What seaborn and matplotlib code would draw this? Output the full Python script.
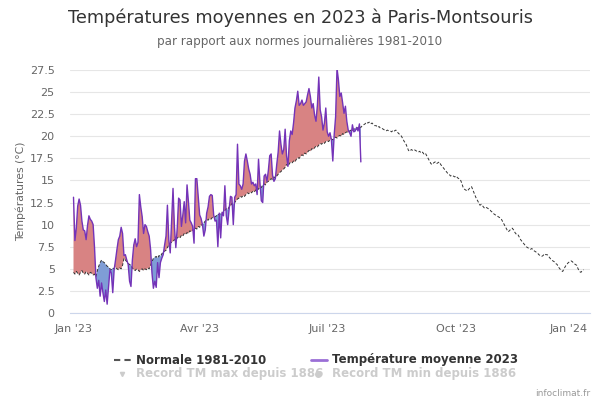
import numpy as np
import pandas as pd
import matplotlib
matplotlib.use('Agg')
import matplotlib.pyplot as plt
import matplotlib.transforms as mtransforms
from matplotlib.lines import Line2D
import seaborn as sns

# normale journaliere 1981-2010 (1 valeur par jour, 1er janvier -> 31 decembre)
normale = [
    # janvier
    4.6, 4.4, 4.7, 4.5, 4.3, 4.6, 4.8, 4.5, 4.4, 4.7, 4.5, 4.3, 4.6, 4.5, 4.3, 4.4,
    4.1, 4.8, 5.3, 5.7, 6.0, 5.8, 5.7, 5.5, 5.3, 5.2, 5.0, 4.9, 5.1, 5.0, 5.2,
    # fevrier
    5.0, 4.9, 5.1, 5.0, 5.4, 6.2, 6.0, 5.8, 5.6, 5.5, 5.4, 5.1, 4.9, 4.8, 5.0, 4.9,
    4.7, 4.9, 5.0, 4.8, 5.0, 4.9, 5.1, 5.0, 5.4, 5.8, 6.2, 6.3,
    # mars
    6.4, 6.2, 6.5, 6.4, 6.7, 6.9, 7.0, 7.1, 7.4, 7.7, 7.9, 8.0, 8.1, 8.3, 8.2, 8.5,
    8.6, 8.5, 8.8, 8.7, 9.0, 8.9, 9.1, 9.0, 9.3, 9.2, 9.4, 9.3, 9.6, 9.5, 9.8,
    # avril
    9.7, 10.0, 9.9, 10.2, 10.4, 10.6, 10.5, 10.7, 10.6, 10.8, 10.8, 10.9, 11.0, 11.2, 11.1,
    11.3, 11.2, 11.5, 11.6, 11.8, 11.7, 12.0, 12.1, 12.4, 12.3, 12.5, 12.7, 12.9, 13.0, 13.2,
    # mai
    13.1, 13.3, 13.2, 13.4, 13.6, 13.5, 13.7, 13.6, 13.8, 13.7, 13.9, 14.1, 14.0, 14.3, 14.2,
    14.5, 14.6, 14.5, 14.8, 14.9, 15.0, 15.2, 15.1, 15.4, 15.3, 15.5, 15.7, 15.9, 16.0, 16.2, 16.3,
    # juin
    16.5, 16.8, 16.6, 16.9, 17.1, 17.0, 17.2, 17.1, 17.4, 17.6, 17.5, 17.7, 17.9, 17.8, 18.1,
    18.0, 18.2, 18.4, 18.3, 18.6, 18.5, 18.7, 18.9, 18.8, 19.0, 19.2, 19.1, 19.3, 19.2, 19.4,
    # juillet
    19.5, 19.4, 19.6, 19.7, 19.6, 19.8, 19.9, 19.8, 20.0, 20.1, 20.0, 20.3, 20.2, 20.4, 20.5,
    20.4, 20.6, 20.7, 20.6, 20.8, 20.9, 20.8, 21.0, 21.1, 21.0, 21.2, 21.3, 21.4, 21.6, 21.5, 21.6,
    # aout
    21.4, 21.5, 21.3, 21.2, 21.2, 21.0, 21.1, 20.9, 20.9, 20.8, 20.7, 20.6, 20.7, 20.6, 20.6,
    20.5, 20.7, 20.6, 20.7, 20.5, 20.3, 20.2, 20.0, 19.7, 19.4, 19.2, 18.8, 18.4, 18.3, 18.5, 18.4,
    # septembre
    18.5, 18.4, 18.3, 18.2, 18.3, 18.1, 18.2, 18.0, 18.1, 17.8, 17.5, 17.2, 16.9, 16.8, 17.0,
    17.1, 16.9, 17.0, 17.1, 16.8, 16.6, 16.4, 16.2, 16.0, 15.8, 15.7, 15.5, 15.6, 15.5, 15.4,
    # octobre
    15.5, 15.3, 15.2, 15.1, 14.7, 14.2, 14.0, 13.9, 13.8, 14.0, 14.2, 14.3, 13.9, 13.5, 13.1,
    12.8, 12.5, 12.2, 12.3, 12.1, 11.9, 12.0, 11.9, 11.8, 11.7, 11.5, 11.4, 11.2, 11.1, 11.0, 10.9,
    # novembre
    10.8, 10.7, 10.4, 10.1, 9.8, 9.5, 9.2, 9.3, 9.5, 9.6, 9.4, 9.1, 8.9, 8.9, 8.6,
    8.3, 8.1, 7.9, 7.7, 7.5, 7.4, 7.3, 7.2, 7.3, 7.1, 7.0, 6.9, 6.8, 6.6, 6.5,
    # decembre
    6.4, 6.5, 6.7, 6.6, 6.6, 6.4, 6.2, 6.0, 5.9, 5.8, 5.6, 5.5, 5.2, 5.0, 4.8, 4.7,
    5.0, 5.3, 5.5, 5.7, 5.8, 5.9, 5.8, 5.6, 5.5, 5.4, 5.0, 4.7, 4.6, 4.8, 4.9,
]

# temperature moyenne 2023 (1er janvier -> 25 juillet)
temp_2023 = [
    # janvier
    13.1, 8.2, 9.6, 12.1, 12.9, 12.2, 10.4, 9.4, 9.3, 8.3, 9.9, 11.0, 10.6, 10.4, 10.0, 7.4,
    4.0, 2.8, 3.7, 1.9, 3.4, 2.3, 1.3, 2.6, 1.0, 3.0, 4.9, 4.5, 2.3, 4.9, 6.0,
    # fevrier
    7.2, 8.3, 8.7, 9.7, 9.0, 6.5, 6.6, 6.0, 5.5, 3.6, 3.0, 6.0, 7.7, 8.4, 7.5, 8.0,
    13.4, 12.0, 10.9, 9.0, 10.0, 9.8, 9.2, 8.7, 7.2, 4.5, 2.8, 3.6,
    # mars
    2.9, 5.7, 4.0, 5.7, 6.2, 6.6, 7.7, 8.7, 12.2, 8.3, 6.8, 10.5, 14.1, 9.8, 7.4, 9.6,
    13.0, 12.8, 9.8, 11.1, 12.6, 10.2, 14.5, 12.6, 10.5, 10.2, 9.8, 7.9, 15.2, 15.2, 13.2,
    # avril
    11.1, 10.7, 10.0, 8.7, 9.4, 11.3, 12.0, 13.2, 13.4, 13.3, 11.1, 10.4, 10.5, 7.5, 11.3,
    8.5, 11.4, 11.0, 14.4, 11.0, 10.0, 11.7, 13.2, 13.1, 10.0, 13.1, 13.4, 19.1, 14.6, 14.4,
    # mai
    14.0, 14.6, 17.2, 18.0, 17.2, 16.3, 15.7, 14.6, 14.8, 14.4, 14.6, 13.4, 17.4, 14.8, 12.7,
    12.5, 15.5, 15.7, 14.9, 16.1, 17.8, 18.0, 15.6, 14.9, 15.2, 16.8, 18.2, 20.6, 19.1, 18.0, 18.5,
    # juin
    20.8, 17.8, 16.6, 19.5, 20.6, 20.2, 21.5, 23.2, 24.0, 25.1, 23.5, 23.7, 24.1, 23.5, 23.7,
    23.9, 24.7, 25.4, 24.5, 23.2, 23.7, 22.4, 21.7, 23.5, 26.7, 23.0, 22.2, 20.7, 21.5, 23.2,
    # juillet
    20.5, 20.0, 20.4, 19.6, 17.2, 20.2, 22.2, 27.7, 26.4, 24.5, 24.9, 23.8, 22.6, 23.4, 21.7,
    20.7, 20.4, 20.0, 21.3, 20.5, 20.6, 21.0, 20.6, 21.4, 17.1,
]

tick_dates = ['2023-01-01', '2023-04-01', '2023-07-01', '2023-10-01', '2024-01-01']
tick_labels = ["Jan '23", "Avr '23", "Juil '23", "Oct '23", "Jan '24"]
y_ticks = [0, 2.5, 5, 7.5, 10, 12.5, 15, 17.5, 20, 22.5, 25, 27.5]

jours = pd.date_range('2023-01-01', periods=len(normale), freq='D')
df_norm = pd.DataFrame({'date': jours, 'temp': normale})
df_2023 = pd.DataFrame({'date': jours[:len(temp_2023)], 'temp': temp_2023})

sns.set_style('white')
plt.rcParams['font.family'] = ['DejaVu Sans']

fig = plt.figure(figsize=(6, 4), dpi=100)
ax = fig.add_axes([70 / 600, 1 - 313 / 400, 520 / 600, 243 / 400])

n = len(temp_2023)
t = np.array(temp_2023)
nr = np.array(normale[:n])
ax.fill_between(df_2023['date'], nr, t, where=t >= nr, interpolate=True,
                color='#d88383', lw=0, zorder=2)
ax.fill_between(df_2023['date'], nr, t, where=t <= nr, interpolate=True,
                color='#7f9dd6', lw=0, zorder=2)

sns.lineplot(data=df_norm, x='date', y='temp', ax=ax, color='#333333', lw=0.7, zorder=3)
ax.lines[-1].set_linestyle((0, (3, 2)))
sns.lineplot(data=df_2023, x='date', y='temp', ax=ax, color='#7433b8', lw=1.0, zorder=4)

ax.set_xlim(pd.Timestamp('2023-01-01') - pd.Timedelta(days=2.5),
            pd.Timestamp('2024-01-01') + pd.Timedelta(days=3.5))
ax.set_ylim(0, 27.5)
ax.set_xticks(pd.to_datetime(tick_dates))
ax.set_xticklabels(tick_labels)
ax.set_yticks(y_ticks)
ax.set_yticklabels([f'{v:g}' for v in y_ticks])

ax.grid(axis='y', color='#e6e6e6', lw=0.8)
ax.set_axisbelow(True)
for s in ['top', 'right', 'left']:
    ax.spines[s].set_visible(False)
ax.spines['bottom'].set_color('#ccd6eb')
ax.spines['bottom'].set_linewidth(0.8)
ax.tick_params(axis='x', length=7, color='#ccd6eb', width=0.8, pad=1,
               labelsize=8, labelcolor='#666666')
ax.tick_params(axis='y', length=0, pad=11, labelsize=8, labelcolor='#666666')

# le dernier label reste dans la figure
last = ax.get_xticklabels()[-1]
last.set_horizontalalignment('right')
last.set_transform(last.get_transform() + mtransforms.ScaledTranslation(3 / 100, 0, fig.dpi_scale_trans))

ax.set_xlabel('')
ax.set_ylabel('Températures (°C)', fontsize=7.8, color='#666666')
ax.yaxis.set_label_coords(-0.085, 0.5)

fig.text(0.5, 1 - 18 / 400, 'Températures moyennes en 2023 à Paris-Montsouris',
         ha='center', va='center', fontsize=12.7, color='#333333')
fig.text(0.5, 1 - 41 / 400, 'par rapport aux normes journalières 1981-2010',
         ha='center', va='center', fontsize=8.6, color='#666666')

# legende
y1 = 1 - 360 / 400
y2 = 1 - 374 / 400
fig.add_artist(Line2D([114 / 600, 131 / 600], [y1, y1], color='#555555', lw=1.5,
                      linestyle=(0, (3, 2)), transform=fig.transFigure))
fig.text(136 / 600, y1, 'Normale 1981-2010', ha='left', va='center', fontsize=8.5,
         fontweight='bold', color='#333333')
fig.add_artist(Line2D([311 / 600, 327 / 600], [y1, y1], color='#9b6fd6', lw=2,
                      transform=fig.transFigure))
fig.text(332 / 600, y1, 'Température moyenne 2023', ha='left', va='center', fontsize=8.5,
         fontweight='bold', color='#333333')
fig.add_artist(Line2D([122 / 600], [y2], marker='v', markersize=3, color='#cccccc',
                      lw=0, transform=fig.transFigure))
fig.text(136 / 600, y2, 'Record TM max depuis 1886', ha='left', va='center', fontsize=8.5,
         fontweight='bold', color='#cccccc')
fig.add_artist(Line2D([318 / 600], [y2], marker='o', markersize=4, color='#cccccc',
                      lw=0, transform=fig.transFigure))
fig.text(332 / 600, y2, 'Record TM min depuis 1886', ha='left', va='center', fontsize=8.5,
         fontweight='bold', color='#cccccc')

fig.text(590 / 600, 1 - 393 / 400, 'infoclimat.fr', ha='right', va='center',
         fontsize=6.5, color='#999999')

fig.savefig('out.png', dpi=100)
